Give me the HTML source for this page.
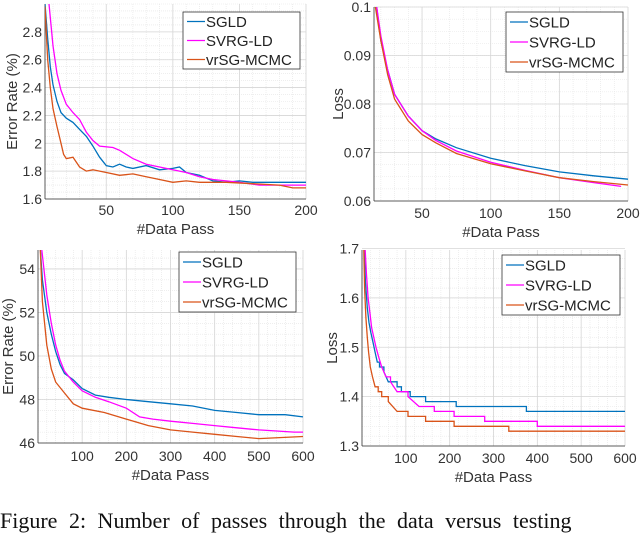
<!DOCTYPE html>
<html><head><meta charset="utf-8"><style>
body{margin:0;width:640px;height:516px;overflow:hidden;background:#fff;font-family:"Liberation Sans",sans-serif}
svg{position:absolute;left:0;top:0}
#cap{position:absolute;left:0;top:508px;font-family:"Liberation Serif",serif;font-size:22px;white-space:nowrap;color:#111;word-spacing:6px}
</style></head><body>
<svg id="fig" width="640" height="516"></svg>
<div id="cap">Figure 2: Number of passes through the data versus testing</div>
<script>
const seriesNames=["SGLD","SVRG-LD","vrSG-MCMC"];
const seriesColors=["#0072BD","#FF00FF","#D95319"];
// Panel A: top-left error rate
const aSgldX=[4,6,8,10,13,16,20,25,30,35,40,45,50,55,60,65,70,80,90,100,105,110,120,130,140,150,160,200];
const aSgldY=[3.0,2.75,2.55,2.42,2.3,2.22,2.18,2.15,2.1,2.05,1.98,1.9,1.84,1.83,1.85,1.83,1.82,1.84,1.81,1.82,1.83,1.79,1.77,1.73,1.72,1.73,1.72,1.72];
const aSvrgX=[7,10,13,16,20,25,30,35,40,45,55,60,70,80,90,100,110,120,130,140,150,165,180,200];
const aSvrgY=[3.0,2.7,2.5,2.38,2.28,2.22,2.17,2.08,2.02,1.98,1.97,1.95,1.89,1.85,1.83,1.81,1.79,1.76,1.74,1.73,1.72,1.7,1.7,1.7];
const aVrX=[4,6,8,10,13,16,18,20,25,30,35,40,50,60,70,80,90,100,110,120,140,160,180,190,200];
const aVrY=[2.98,2.6,2.4,2.25,2.12,2.0,1.92,1.89,1.9,1.83,1.8,1.81,1.79,1.77,1.78,1.76,1.74,1.72,1.73,1.72,1.72,1.71,1.7,1.68,1.68];
const aXTicks=[50,100,150,200];
const aYTicks=[1.6,1.8,2,2.2,2.4,2.6,2.8];
// Panel B: top-right loss
const bSgldX=[17,20,25,30,40,50,60,75,100,125,150,175,200];
const bSgldY=[0.1,0.093,0.087,0.082,0.0775,0.0745,0.0728,0.071,0.0688,0.0673,0.066,0.0652,0.0645];
const bSvrgX=[17,20,25,30,40,50,60,75,100,125,150,175,195];
const bSvrgY=[0.1,0.094,0.087,0.082,0.0775,0.0745,0.0725,0.0703,0.068,0.0663,0.0648,0.0638,0.063];
const bVrX=[16,20,25,30,40,50,60,75,100,125,150,175,200];
const bVrY=[0.1,0.093,0.086,0.081,0.0765,0.0737,0.072,0.0698,0.0677,0.0662,0.0648,0.064,0.0633];
const bXTicks=[50,100,150,200];
const bYTicks=[0.06,0.07,0.08,0.09,0.1];
// Panel C: bottom-left error rate
const cSgldX=[5,10,20,30,40,50,60,80,100,130,160,200,250,300,350,400,450,500,560,600];
const cSgldY=[55,53.5,52,51,50.2,49.6,49.2,48.9,48.5,48.2,48.1,48.0,47.9,47.8,47.7,47.5,47.4,47.3,47.3,47.2];
const cSvrgX=[8,20,30,40,50,60,80,100,130,160,200,230,260,300,350,400,450,500,580,600];
const cSvrgY=[55,52.8,51.5,50.5,49.8,49.3,48.8,48.4,48.1,47.9,47.6,47.2,47.1,47.0,46.9,46.8,46.7,46.6,46.5,46.5];
const cVrX=[5,10,20,30,40,60,80,100,150,200,250,300,350,400,450,500,600];
const cVrY=[55,52.5,50.5,49.4,48.8,48.3,47.8,47.6,47.4,47.1,46.8,46.6,46.5,46.4,46.3,46.2,46.3];
const cXTicks=[100,200,300,400,500,600];
const cYTicks=[46,48,50,52,54];
// Panel D: bottom-right loss (step)
const dSgldX=[5,8,12,16,20,25,30,35,40,50,60,80,90,110,145,215,375,600];
const dSgldY=[1.7,1.63,1.58,1.55,1.53,1.51,1.49,1.47,1.46,1.45,1.43,1.42,1.41,1.4,1.39,1.38,1.37,1.37];
const dSvrgX=[7,10,14,18,22,27,32,38,45,55,65,80,105,130,165,210,280,400,600];
const dSvrgY=[1.7,1.65,1.6,1.57,1.54,1.52,1.5,1.48,1.46,1.44,1.43,1.41,1.4,1.38,1.37,1.36,1.35,1.34,1.34];
const dVrX=[4,6,9,12,15,19,24,30,37,45,60,80,105,145,210,335,600];
const dVrY=[1.7,1.62,1.56,1.52,1.49,1.46,1.44,1.42,1.41,1.4,1.39,1.37,1.36,1.35,1.34,1.33,1.33];
const dXTicks=[100,200,300,400,500,600];
const dYTicks=[1.3,1.4,1.5,1.6,1.7];

const NS="http://www.w3.org/2000/svg";
const svg=document.getElementById('fig');
function mk(tag,attrs,parent){const e=document.createElementNS(NS,tag);for(const k in attrs)e.setAttribute(k,attrs[k]);(parent||svg).appendChild(e);return e;}

const panels=[
 {id:"a",L:45,R:306,T:4,B:199,x0:4,x1:200,y0:1.6,y1:3.0,xt:aXTicks,yt:aYTicks,xm:10,ym:0.05,ylab:"Error Rate (%)",ylx:13,fmt:v=>String(+v.toFixed(1)),xs:[aSgldX,aSvrgX,aVrX],ys:[aSgldY,aSvrgY,aVrY],step:false,leg:[183,12,117,57],tky:215,xly:234},
 {id:"b",L:374,R:628,T:7,B:201,x0:15,x1:200,y0:0.06,y1:0.1,xt:bXTicks,yt:bYTicks,xm:10,ym:0.0025,ylab:"Loss",ylx:339,fmt:v=>String(+v.toFixed(2)),xs:[bSgldX,bSvrgX,bVrX],ys:[bSgldY,bSvrgY,bVrY],step:false,leg:[506,12,117,60],tky:218,xly:237},
 {id:"c",L:38,R:303,T:250,B:443,x0:0,x1:600,y0:46,y1:54.87,xt:cXTicks,yt:cYTicks,xm:20,ym:0.5,ylab:"Error Rate (%)",ylx:9,fmt:v=>String(v),xs:[cSgldX,cSvrgX,cVrX],ys:[cSgldY,cSvrgY,cVrY],step:false,leg:[179,252,117,60],tky:461,xly:480},
 {id:"d",L:362,R:625,T:250,B:446,x0:0,x1:600,y0:1.3,y1:1.697,xt:dXTicks,yt:dYTicks,xm:20,ym:0.02,ylab:"Loss",ylx:333,fmt:v=>String(+v.toFixed(1)),xs:[dSgldX,dSvrgX,dVrX],ys:[dSgldY,dSvrgY,dVrY],step:true,leg:[502,255,118,60],tky:463,xly:482}
];

panels.forEach(p=>{
  const g=mk('g',{});
  
  
  const sx=v=>p.L+(v-p.x0)/(p.x1-p.x0)*(p.R-p.L);
  const sy=v=>p.B-(v-p.y0)/(p.y1-p.y0)*(p.B-p.T);
  const clipId='clip'+p.id;
  const cp=mk('clipPath',{id:clipId},g);mk('rect',{x:p.L,y:p.T,width:p.R-p.L,height:p.B-p.T},cp);
  for(let v=Math.ceil(p.x0/p.xm)*p.xm;v<=p.x1;v+=p.xm){const x=sx(v);mk('line',{x1:x,x2:x,y1:p.T,y2:p.B,stroke:'#e4e4e4','stroke-width':0.6,'stroke-dasharray':'1 1'},g);}
  for(let v=p.y0;v<=p.y1+1e-9;v+=p.ym){const y=sy(v);mk('line',{x1:p.L,x2:p.R,y1:y,y2:y,stroke:'#e4e4e4','stroke-width':0.6,'stroke-dasharray':'1 1'},g);}
  p.xt.forEach(v=>{const x=sx(v);mk('line',{x1:x,x2:x,y1:p.T,y2:p.B,stroke:'#d6d6d6','stroke-width':0.8},g);});
  p.yt.forEach(v=>{const y=sy(v);mk('line',{x1:p.L,x2:p.R,y1:y,y2:y,stroke:'#d6d6d6','stroke-width':0.8},g);});
  const xa=mk('line',{x1:p.L,x2:p.R,y1:p.B,y2:p.B,stroke:'#333','stroke-width':0.8},g);
  
  const ya=mk('line',{x1:p.L,x2:p.L,y1:p.T,y2:p.B,stroke:'#333','stroke-width':0.8},g);
  
  p.xt.forEach(v=>{const t=mk('text',{x:sx(v),y:p.tky,'text-anchor':'middle','font-size':14,fill:'#333'},g);t.textContent=String(v);
    });
  p.yt.forEach(v=>{const t=mk('text',{x:p.L-3,y:sy(v)+5,'text-anchor':'end','font-size':14,fill:'#333'},g);t.textContent=p.fmt(v);
    });
  const xl=mk('text',{x:(p.L+p.R)/2,y:p.xly,'text-anchor':'middle','font-size':15,fill:'#333'},g);xl.textContent='#Data Pass';
  
  const cy=(p.T+p.B)/2;
  const yl=mk('text',{x:p.ylx,y:cy,'text-anchor':'middle','font-size':15,fill:'#333',transform:'rotate(-90 '+p.ylx+' '+cy+')','dominant-baseline':'middle'},g);yl.textContent=p.ylab;
  
  const sg=mk('g',{'clip-path':'url(#'+clipId+')'},g);
  p.xs.forEach((xs,i)=>{
    const ys=p.ys[i];let d='';
    xs.forEach((xv,k)=>{
      if(k===0)d+='M'+sx(xv).toFixed(1)+' '+sy(ys[k]).toFixed(1);
      else if(p.step && (ys[k-1]-ys[k])<0.0151)d+=' L'+sx(xv).toFixed(1)+' '+sy(ys[k-1]).toFixed(1)+' L'+sx(xv).toFixed(1)+' '+sy(ys[k]).toFixed(1);
      else d+=' L'+sx(xv).toFixed(1)+' '+sy(ys[k]).toFixed(1);
    });
    const path=mk('path',{d:d,fill:'none',stroke:seriesColors[i],'stroke-width':1.3},sg);
    
    
  });
  const [lx,ly,lw,lh]=p.leg;
  const lg=mk('g',{},g);
  
  mk('rect',{x:lx,y:ly,width:lw,height:lh,fill:'#fff',stroke:'#333','stroke-width':0.8},lg);
  seriesNames.forEach((n,i)=>{
    const yy=ly+lh/6+i*lh/3;
    mk('line',{x1:lx+4,x2:lx+22,y1:yy,y2:yy,stroke:seriesColors[i],'stroke-width':1.3},lg);
    const t=mk('text',{x:lx+23,y:yy+5.5,'font-size':15,fill:'#222'},lg);t.textContent=n;
    
  });
});
</script>
</body></html>
